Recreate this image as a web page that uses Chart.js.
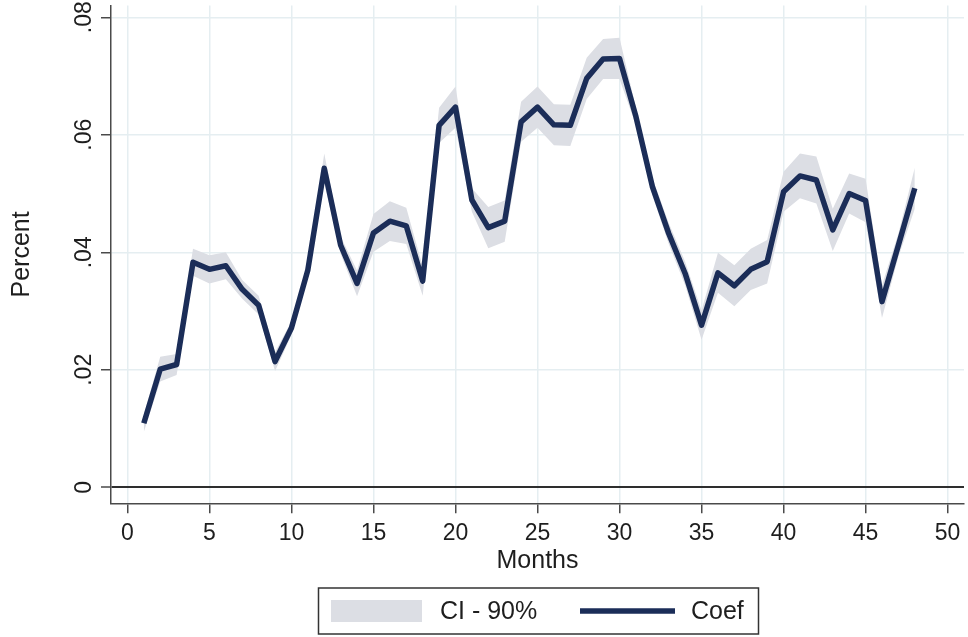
<!DOCTYPE html>
<html>
<head>
<meta charset="utf-8">
<style>
  html, body { margin: 0; padding: 0; background: #ffffff; }
  #wrap { width: 968px; height: 637px; }
</style>
<script src="https://cdn.jsdelivr.net/npm/chart.js@4.4.1/dist/chart.umd.min.js"></script>
</head>
<body>
<div id="wrap"><canvas id="c" width="968" height="637"></canvas></div>
<script>
// Months since the event
const months = [1, 2, 3, 4, 5, 6, 7, 8, 9, 10, 11, 12, 13, 14, 15, 16,
  17, 18, 19, 20, 21, 22, 23, 24, 25, 26, 27, 28, 29, 30, 31, 32,
  33, 34, 35, 36, 37, 38, 39, 40, 41, 42, 43, 44, 45, 46, 47, 48];

// Point estimates
const coef = [0.0109, 0.0201, 0.0209, 0.0383, 0.0371, 0.0377, 0.0337, 0.0310,
  0.0214, 0.0271, 0.0370, 0.0543, 0.0412, 0.0347, 0.0433, 0.0453,
  0.0445, 0.0351, 0.0616, 0.0647, 0.0489, 0.0442, 0.0453, 0.0622,
  0.0647, 0.0617, 0.0616, 0.0696, 0.0729, 0.0730, 0.0631, 0.0512,
  0.0432, 0.0364, 0.0276, 0.0365, 0.0343, 0.0371, 0.0384, 0.0503,
  0.0530, 0.0523, 0.0438, 0.0500, 0.0488, 0.0316, 0.0412, 0.0509];

// 90% confidence interval bounds
const ciLower = [0.0094, 0.0180, 0.0191, 0.0360, 0.0347, 0.0354, 0.0321, 0.0294,
  0.0198, 0.0259, 0.0358, 0.0518, 0.0397, 0.0325, 0.0401, 0.0419,
  0.0414, 0.0326, 0.0586, 0.0612, 0.0469, 0.0407, 0.0418, 0.0588,
  0.0612, 0.0582, 0.0581, 0.0661, 0.0695, 0.0695, 0.0616, 0.0497,
  0.0414, 0.0344, 0.0251, 0.0331, 0.0308, 0.0336, 0.0347, 0.0469,
  0.0492, 0.0483, 0.0402, 0.0466, 0.0451, 0.0288, 0.0392, 0.0474];

const ciUpper = [0.0124, 0.0222, 0.0227, 0.0406, 0.0395, 0.0400, 0.0353, 0.0326,
  0.0230, 0.0283, 0.0382, 0.0568, 0.0427, 0.0369, 0.0465, 0.0487,
  0.0476, 0.0376, 0.0646, 0.0682, 0.0509, 0.0477, 0.0488, 0.0656,
  0.0682, 0.0652, 0.0651, 0.0731, 0.0763, 0.0765, 0.0646, 0.0527,
  0.0450, 0.0384, 0.0301, 0.0399, 0.0378, 0.0406, 0.0421, 0.0537,
  0.0568, 0.0563, 0.0474, 0.0534, 0.0525, 0.0344, 0.0432, 0.0544];

// Axis ticks
const xTickValues = [0, 5, 10, 15, 20, 25, 30, 35, 40, 45, 50];
const yTickValues = [0, 0.02, 0.04, 0.06, 0.08];
const yTickLabels = ['0', '.02', '.04', '.06', '.08'];

const FONT = '"Liberation Sans", Arial, Helvetica, sans-serif';
const TEXT = '#1e1e1e';
const AXIS = '#4a4a4a';
const GRID = '#e5eef1';
const BAND = '#dcdee4';
const LINE = '#1b2d58';

const pts = arr => months.map((m, i) => ({ x: m, y: arr[i] }));

// Vertical (rotated) labels for the y axis
const yLabelPlugin = {
  id: 'yLabels',
  afterDraw(chart) {
    const ctx = chart.ctx;
    const ys = chart.scales.y;
    ctx.save();
    ctx.fillStyle = TEXT;
    ctx.font = '23px ' + FONT;
    ctx.textAlign = 'center';
    ctx.textBaseline = 'middle';
    yTickValues.forEach((v, i) => {
      const py = ys.getPixelForValue(v);
      ctx.save();
      ctx.translate(85, py);
      ctx.rotate(-Math.PI / 2);
      ctx.fillText(yTickLabels[i], 0, 0);
      ctx.restore();
    });
    ctx.restore();
  }
};

// Boxed legend under the axis title
const boxLegendPlugin = {
  id: 'boxLegend',
  afterDraw(chart) {
    const ctx = chart.ctx;
    const band = chart.data.datasets[0];
    const line = chart.data.datasets[2];
    ctx.save();
    ctx.strokeStyle = '#333333';
    ctx.lineWidth = 1.5;
    ctx.strokeRect(318.5, 588, 440, 46);
    ctx.fillStyle = band.backgroundColor;
    ctx.fillRect(331, 600, 91, 22);
    ctx.fillStyle = TEXT;
    ctx.font = '25px ' + FONT;
    ctx.textAlign = 'left';
    ctx.textBaseline = 'middle';
    ctx.fillText(band.label, 440, 612);
    ctx.strokeStyle = line.borderColor;
    ctx.lineWidth = 5.5;
    ctx.beginPath();
    ctx.moveTo(580, 611);
    ctx.lineTo(675, 611);
    ctx.stroke();
    ctx.fillStyle = TEXT;
    ctx.fillText(line.label, 691, 612);
    ctx.restore();
  }
};

new Chart(document.getElementById('c'), {
  type: 'line',
  data: {
    datasets: [
      {
        label: 'CI - 90%',
        data: pts(ciUpper),
        borderWidth: 0,
        pointRadius: 0,
        backgroundColor: BAND,
        fill: '+1',
        tension: 0,
        order: 2
      },
      {
        label: 'lower',
        data: pts(ciLower),
        borderWidth: 0,
        pointRadius: 0,
        backgroundColor: BAND,
        fill: false,
        tension: 0,
        order: 1
      },
      {
        label: 'Coef',
        data: pts(coef),
        borderColor: LINE,
        borderWidth: 5.5,
        borderJoinStyle: 'round',
        borderCapStyle: 'butt',
        pointRadius: 0,
        fill: false,
        tension: 0,
        order: 0
      }
    ]
  },
  options: {
    responsive: false,
    devicePixelRatio: 1,
    animation: false,
    layout: { padding: { left: 0, top: 5.5, right: 4, bottom: 53.7 } },
    plugins: {
      legend: { display: false },
      tooltip: { enabled: false },
      filler: { propagate: false, drawTime: 'beforeDatasetsDraw' }
    },
    scales: {
      x: {
        type: 'linear',
        min: -1,
        max: 51,
        afterBuildTicks: s => { s.ticks = xTickValues.map(v => ({ value: v })); },
        afterFit: s => { s.height = 80; },
        grid: {
          color: GRID,
          lineWidth: 1.5,
          tickColor: AXIS,
          tickWidth: 1.5,
          tickLength: 10
        },
        border: { display: true, color: AXIS, width: 1.5 },
        ticks: {
          color: TEXT,
          font: { family: FONT, size: 23 },
          padding: 7,
          maxRotation: 0,
          autoSkip: false,
          callback: v => String(v)
        },
        title: {
          display: true,
          text: 'Months',
          color: TEXT,
          font: { family: FONT, size: 25 },
          padding: { top: 0, bottom: 7 }
        }
      },
      y: {
        type: 'linear',
        min: -0.00272,
        max: 0.082,
        afterBuildTicks: s => { s.ticks = yTickValues.map(v => ({ value: v })); },
        afterFit: s => { s.width = 111; },
        grid: {
          color: c => (c.tick && c.tick.value === 0 ? '#2e2e2e' : GRID),
          lineWidth: c => (c.tick && c.tick.value === 0 ? 2 : 1.5),
          tickColor: AXIS,
          tickWidth: 1.5,
          tickLength: 10
        },
        border: { display: true, color: AXIS, width: 1.5 },
        ticks: { display: false },
        title: {
          display: true,
          text: 'Percent',
          color: TEXT,
          font: { family: FONT, size: 25 },
          padding: { top: 7, bottom: 0 }
        }
      }
    }
  },
  plugins: [yLabelPlugin, boxLegendPlugin]
});
</script>
</body>
</html>
